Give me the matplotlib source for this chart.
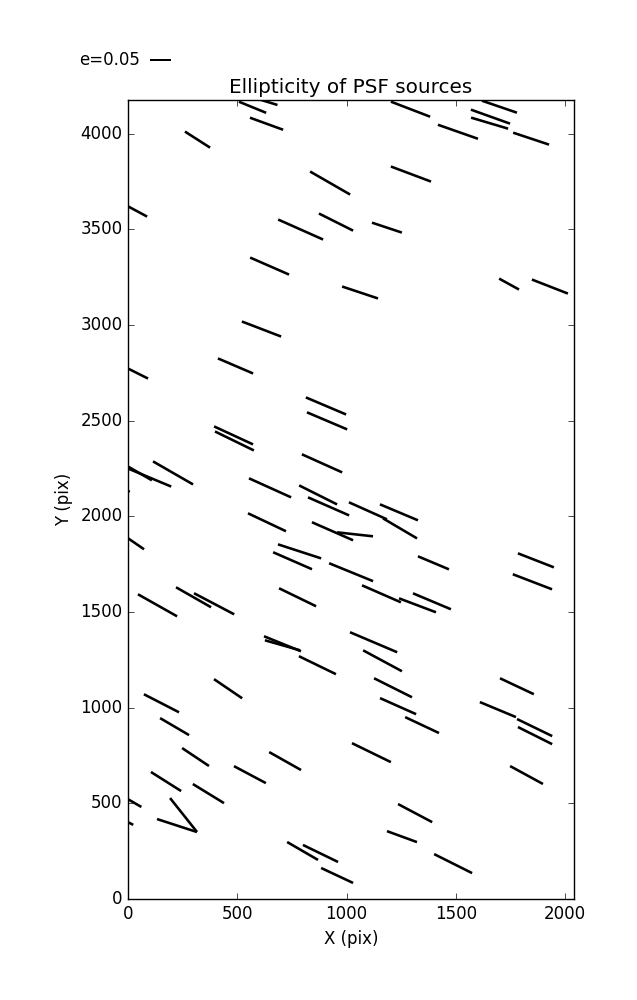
import matplotlib
matplotlib.use('Agg')
import matplotlib.pyplot as plt
import numpy as np

# star positions on the CCD (pix), ellipticity and whisker angle (deg)
star_x = [570, 627, 634, 318, 23, 925, 952, 790, 648, 1062,
          1293, 1700, 1659, 1655, 1510, 1845, 1295, 1185, 1744, 1931,
          611, 27, 492, 906, 911, 483, 487, -60, 46, 92,
          206, -46, 888, 650, 870, 918, 1098, 1240, 1245, 1039,
          936, 636, 17, 785, 753, 1021, 135, 300, 394, 776,
          1124, 707, 707, 867, 458, 153, 1398, 1867, 1851, 1160,
          1325, 1391, 1165, 1213, 1780, 1236, 1693, 1861, 1863, 1346,
          1114, 1824, 1314, 1254, 1488, 213, 309, 719, 558, 174,
          368, 2, -37, 254, 224, 799, 881, 957]
star_y = [4138, 4170, 4052, 3969, 3606, 3742, 3538, 3499, 3308, 3170,
          4128, 4141, 4089, 4055, 4010, 3974, 3789, 3509, 3214, 3201,
          2979, 2757, 2786, 2577, 2499, 2423, 2394, 2574, 2230, 2206,
          2227, 2157, 2277, 2149, 2112, 2052, 2029, 2021, 1937, 1906,
          1922, 1969, 1872, 1817, 1768, 1708, 1535, 1577, 1543, 1577,
          1342, 1334, 1326, 1222, 1099, 1023, 1757, 1770, 1658, 1595,
          1535, 1556, 1245, 1104, 1112, 1008, 990, 896, 854, 909,
          765, 648, 449, 326, 185, 901, 742, 721, 650, 614,
          551, 520, 423, 439, 384, 251, 238, 123]
ell = [0.070, 0.062, 0.084, 0.071, 0.076, 0.110, 0.091, 0.117, 0.101, 0.090,
       0.100, 0.088, 0.099, 0.092, 0.101, 0.090, 0.102, 0.075, 0.054, 0.092,
       0.100, 0.075, 0.091, 0.104, 0.104, 0.102, 0.103, 0.071, 0.076, 0.119,
       0.110, 0.062, 0.105, 0.110, 0.101, 0.107, 0.099, 0.098, 0.094, 0.086,
       0.107, 0.100, 0.071, 0.108, 0.101, 0.113, 0.107, 0.096, 0.108, 0.098,
       0.122, 0.095, 0.087, 0.098, 0.081, 0.094, 0.080, 0.092, 0.100, 0.101,
       0.094, 0.098, 0.105, 0.101, 0.089, 0.094, 0.093, 0.093, 0.091, 0.089,
       0.103, 0.089, 0.092, 0.076, 0.101, 0.080, 0.077, 0.087, 0.086, 0.085,
       0.087, 0.071, 0.071, 0.103, 0.100, 0.085, 0.093, 0.084]
angle = [-22.2, -17.0, -20.0, -32.6, -28.2, -29.9, -26.6, -24.0, -23.6, -18.4,
         -21.0, -18.9, -19.7, -16.6, -19.3, -18.4, -20.6, -18.4, -28.8, -21.3,
         -21.0, -26.6, -23.2, -23.0, -23.0, -24.8, -26.0, -25.0, -30.0, -22.7,
         -29.9, -25.0, -24.2, -24.3, -26.6, -23.7, -24.1, -22.8, -30.5, -6.3,
         -23.7, -25.3, -34.5, -18.0, -23.6, -22.2, -29.4, -29.7, -27.7, -25.9,
         -23.0, -22.1, -15.9, -25.9, -34.2, -27.2, -22.8, -21.3, -21.0, -23.6,
         -20.7, -22.8, -28.3, -26.6, -25.2, -24.0, -22.6, -25.9, -26.6, -25.2,
         -26.0, -28.6, -27.9, -20.1, -26.6, -30.4, -33.7, -29.4, -28.0, -32.3,
         -31.5, -30.0, -27.0, -51.5, -18.0, -30.1, -25.9, -25.1]

X_MAX = 2041
Y_MAX = 4176
KEY_E = 0.05

plt.style.use('classic')

fig = plt.figure(figsize=(6.37, 10), dpi=100, facecolor='white')
ax = fig.add_axes([0.201, 0.101, 0.7, 0.799])

theta = np.deg2rad(angle)
u = np.array(ell) * np.cos(theta)
v = np.array(ell) * np.sin(theta)

q = ax.quiver(star_x, star_y, u, v, angles='uv', pivot='middle',
              scale_units='inches', scale=0.238, width=0.0058,
              headwidth=0, headlength=0, headaxislength=0, color='k')
ax.quiverkey(q, 0.049, 1.05, KEY_E, 'e=%.2f' % KEY_E, labelpos='W',
             coordinates='axes', fontproperties={'size': 12})

ax.set_xlim(0, X_MAX)
ax.set_ylim(0, Y_MAX)
ax.set_xticks([0, 500, 1000, 1500, 2000])
ax.set_yticks(np.arange(0, 4001, 500))
ax.set_xlabel('X (pix)')
ax.set_ylabel('Y (pix)')
ax.set_title('Ellipticity of PSF sources')

fig.savefig('out.png', dpi=100, facecolor='white')
